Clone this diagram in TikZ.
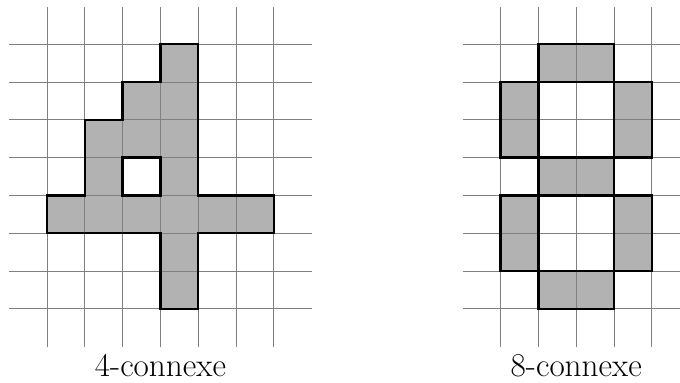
\documentclass[tikz,border=0pt]{standalone}
\begin{document}
\begin{tikzpicture}[x=1cm,y=1cm,
  cellfill/.style={fill=black!30},
  gridline/.style={draw=black!50, line width=0.6pt},
  outline/.style={draw=black, line width=1.8pt, line join=miter},
  caption/.style={anchor=base, font=\fontsize{25}{30}\selectfont, inner sep=0pt}]
\useasboundingbox (-0.246,-0.96) rectangle (17.745,9.172);
% ---- left: 4-connexe ----
\fill[cellfill, even odd rule]
  (4,8) -- (5,8) -- (5,4) -- (7,4) -- (7,3) -- (5,3) -- (5,1) -- (4,1) -- (4,3)
  -- (1,3) -- (1,4) -- (2,4) -- (2,6) -- (3,6) -- (3,7) -- (4,7) -- cycle
  (3,4) rectangle (4,5);
\foreach \x in {1,...,7} \draw[gridline] (\x,0) -- (\x,9);
\foreach \y in {1,...,8} \draw[gridline] (0,\y) -- (8,\y);
\draw[outline]
  (4,8) -- (5,8) -- (5,4) -- (7,4) -- (7,3) -- (5,3) -- (5,1) -- (4,1) -- (4,3)
  -- (1,3) -- (1,4) -- (2,4) -- (2,6) -- (3,6) -- (3,7) -- (4,7) -- cycle;
\draw[outline] (3,4) rectangle (4,5);
\node[caption] (capA) at (4,-0.78) {4-connexe};
% ---- right: 8-connexe ----
\fill[cellfill] (14,7) rectangle (16,8);
\fill[cellfill] (13,5) rectangle (14,7);
\fill[cellfill] (16,5) rectangle (17,7);
\fill[cellfill] (14,4) rectangle (16,5);
\fill[cellfill] (13,2) rectangle (14,4);
\fill[cellfill] (16,2) rectangle (17,4);
\fill[cellfill] (14,1) rectangle (16,2);
\foreach \x in {13,...,17} \draw[gridline] (\x,0) -- (\x,9);
\foreach \y in {1,...,8} \draw[gridline] (12,\y) -- (18,\y);
\draw[outline] (14,7) rectangle (16,8);
\draw[outline] (13,5) rectangle (14,7);
\draw[outline] (16,5) rectangle (17,7);
\draw[outline] (14,4) rectangle (16,5);
\draw[outline] (13,2) rectangle (14,4);
\draw[outline] (16,2) rectangle (17,4);
\draw[outline] (14,1) rectangle (16,2);
\node[caption] (capB) at (15,-0.78) {8-connexe};
\end{tikzpicture}
\end{document}
